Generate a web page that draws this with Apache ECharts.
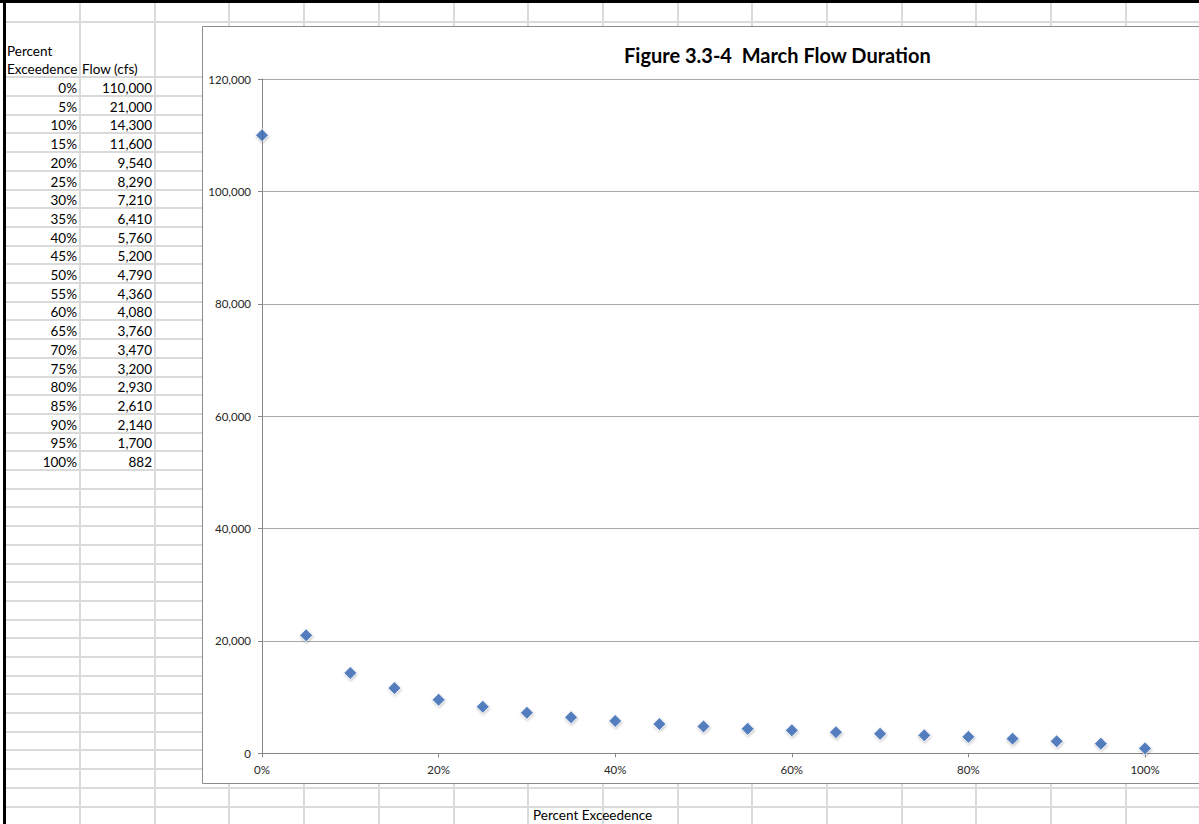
<!DOCTYPE html>
<html>
<head>
<meta charset="utf-8">
<title>March Flow Duration</title>
<script src="https://cdn.jsdelivr.net/npm/echarts@6/dist/echarts.min.js"></script>
<style>
  html, body { margin: 0; padding: 0; background: #fff; overflow: hidden; }
  #main { width: 1199px; height: 824px; }
</style>
</head>
<body>
<div id="main"></div>
<script>
// Flow duration table for March
const exceedence = [0, 0.05, 0.10, 0.15, 0.20, 0.25, 0.30, 0.35, 0.40, 0.45, 0.50,
                    0.55, 0.60, 0.65, 0.70, 0.75, 0.80, 0.85, 0.90, 0.95, 1.00];
const flowCfs = [110000, 21000, 14300, 11600, 9540, 8290, 7210, 6410, 5760, 5200, 4790,
                 4360, 4080, 3760, 3470, 3200, 2930, 2610, 2140, 1700, 882];
const headerPercent = ['Percent', 'Exceedence'];
const headerFlow = 'Flow (cfs)';
const chartTitle = 'Figure 3.3-4  March Flow Duration';
const xAxisTitle = 'Percent Exceedence';
const yTicks = { min: 0, max: 120000, step: 20000 };
const xTicks = { min: 0, max: 1.2, step: 0.2 };

const FONT = 'Lato, "Open Sans", sans-serif';
const fmtPct = v => Math.round(v * 100) + '%';
const fmtNum = v => v.toLocaleString('en-US');

// ---- worksheet backdrop: cell grid, frame and the data table ----
const sheetLine = '#dadada';
const colX = [];
for (let k = 0; k <= 15; k++) colX.push(80 + 74.7 * k);
const rowY = [22];
for (let k = 0; k <= 40; k++) rowY.push(77.3 + 18.7 * k);

const sheet = [];
colX.forEach(x => sheet.push({
  type: 'line', z: -30, silent: true,
  shape: { x1: Math.round(x), y1: 3, x2: Math.round(x), y2: 824 },
  style: { stroke: sheetLine, lineWidth: 2 }
}));
rowY.forEach(y => sheet.push({
  type: 'line', z: -30, silent: true,
  shape: { x1: 6, y1: Math.round(y), x2: 1199, y2: Math.round(y) },
  style: { stroke: sheetLine, lineWidth: 2 }
}));
// window frame
sheet.push({ type: 'rect', z: -5, silent: true, shape: { x: 0, y: 0, width: 1199, height: 3 }, style: { fill: '#000' } });
sheet.push({ type: 'rect', z: -5, silent: true, shape: { x: 3, y: 0, width: 3, height: 824 }, style: { fill: '#000' } });

const cellText = (text, x, y, align) => ({
  type: 'text', z: -5, silent: true, x, y,
  style: { text, fill: '#000', font: '13.5px ' + FONT, textAlign: align, textVerticalAlign: 'middle' }
});
sheet.push(cellText(headerPercent[0], 7, 51, 'left'));
sheet.push(cellText(headerPercent[1], 7, 69, 'left'));
sheet.push(cellText(headerFlow, 82, 69, 'left'));
exceedence.forEach((p, i) => {
  const y = 88 + 18.7 * i;
  sheet.push(cellText(fmtPct(p), 77, y, 'right'));
  sheet.push(cellText(fmtNum(flowCfs[i]), 152, y, 'right'));
});

// chart object box
sheet.push({
  type: 'rect', z: -10, silent: true,
  shape: { x: 202.5, y: 26.5, width: 1100, height: 757 },
  style: { fill: '#fff', stroke: '#8c8c8c', lineWidth: 1 }
});
// horizontal axis title sits below the chart box
sheet.push(cellText(xAxisTitle, 533, 815, 'left'));

const chart = echarts.init(document.getElementById('main'), null, { renderer: 'svg' });
chart.setOption({
  backgroundColor: '#fff',
  animation: false,
  graphic: { elements: sheet },
  title: {
    text: chartTitle,
    left: 619, top: 40,
    textStyle: { fontFamily: FONT, fontWeight: 'bold', fontSize: 20, color: '#000' }
  },
  grid: {
    left: 262, top: 79, width: 1059.6, height: 674.3,
    containLabel: false, outerBoundsMode: 'none'
  },
  xAxis: {
    type: 'value', min: xTicks.min, max: xTicks.max, interval: xTicks.step,
    axisLine: { lineStyle: { color: '#868686', width: 1 } },
    axisTick: { show: true, inside: false, length: 4, lineStyle: { color: '#868686' } },
    axisLabel: { formatter: fmtPct, margin: 10, color: '#262626', fontFamily: FONT, fontSize: 11.5, showMaxLabel: false },
    splitLine: { show: false }
  },
  yAxis: {
    type: 'value', min: yTicks.min, max: yTicks.max, interval: yTicks.step,
    axisLine: { show: true, lineStyle: { color: '#868686', width: 1 } },
    axisTick: { show: true, inside: false, length: 4, lineStyle: { color: '#868686' } },
    axisLabel: { formatter: fmtNum, margin: 11, color: '#262626', fontFamily: FONT, fontSize: 11.5 },
    splitLine: { show: true, lineStyle: { color: '#a8a8a8', width: 1 } }
  },
  series: [{
    type: 'scatter',
    z: 5,
    symbol: 'diamond',
    symbolSize: 13,
    itemStyle: {
      color: '#3266b4',
      borderColor: '#fff', borderWidth: 1,
      shadowColor: 'rgba(0,0,0,0.25)', shadowBlur: 2, shadowOffsetX: 0.5, shadowOffsetY: 1.5
    },
    data: exceedence.map((p, i) => [p, flowCfs[i]])
  }]
});
</script>
</body>
</html>
